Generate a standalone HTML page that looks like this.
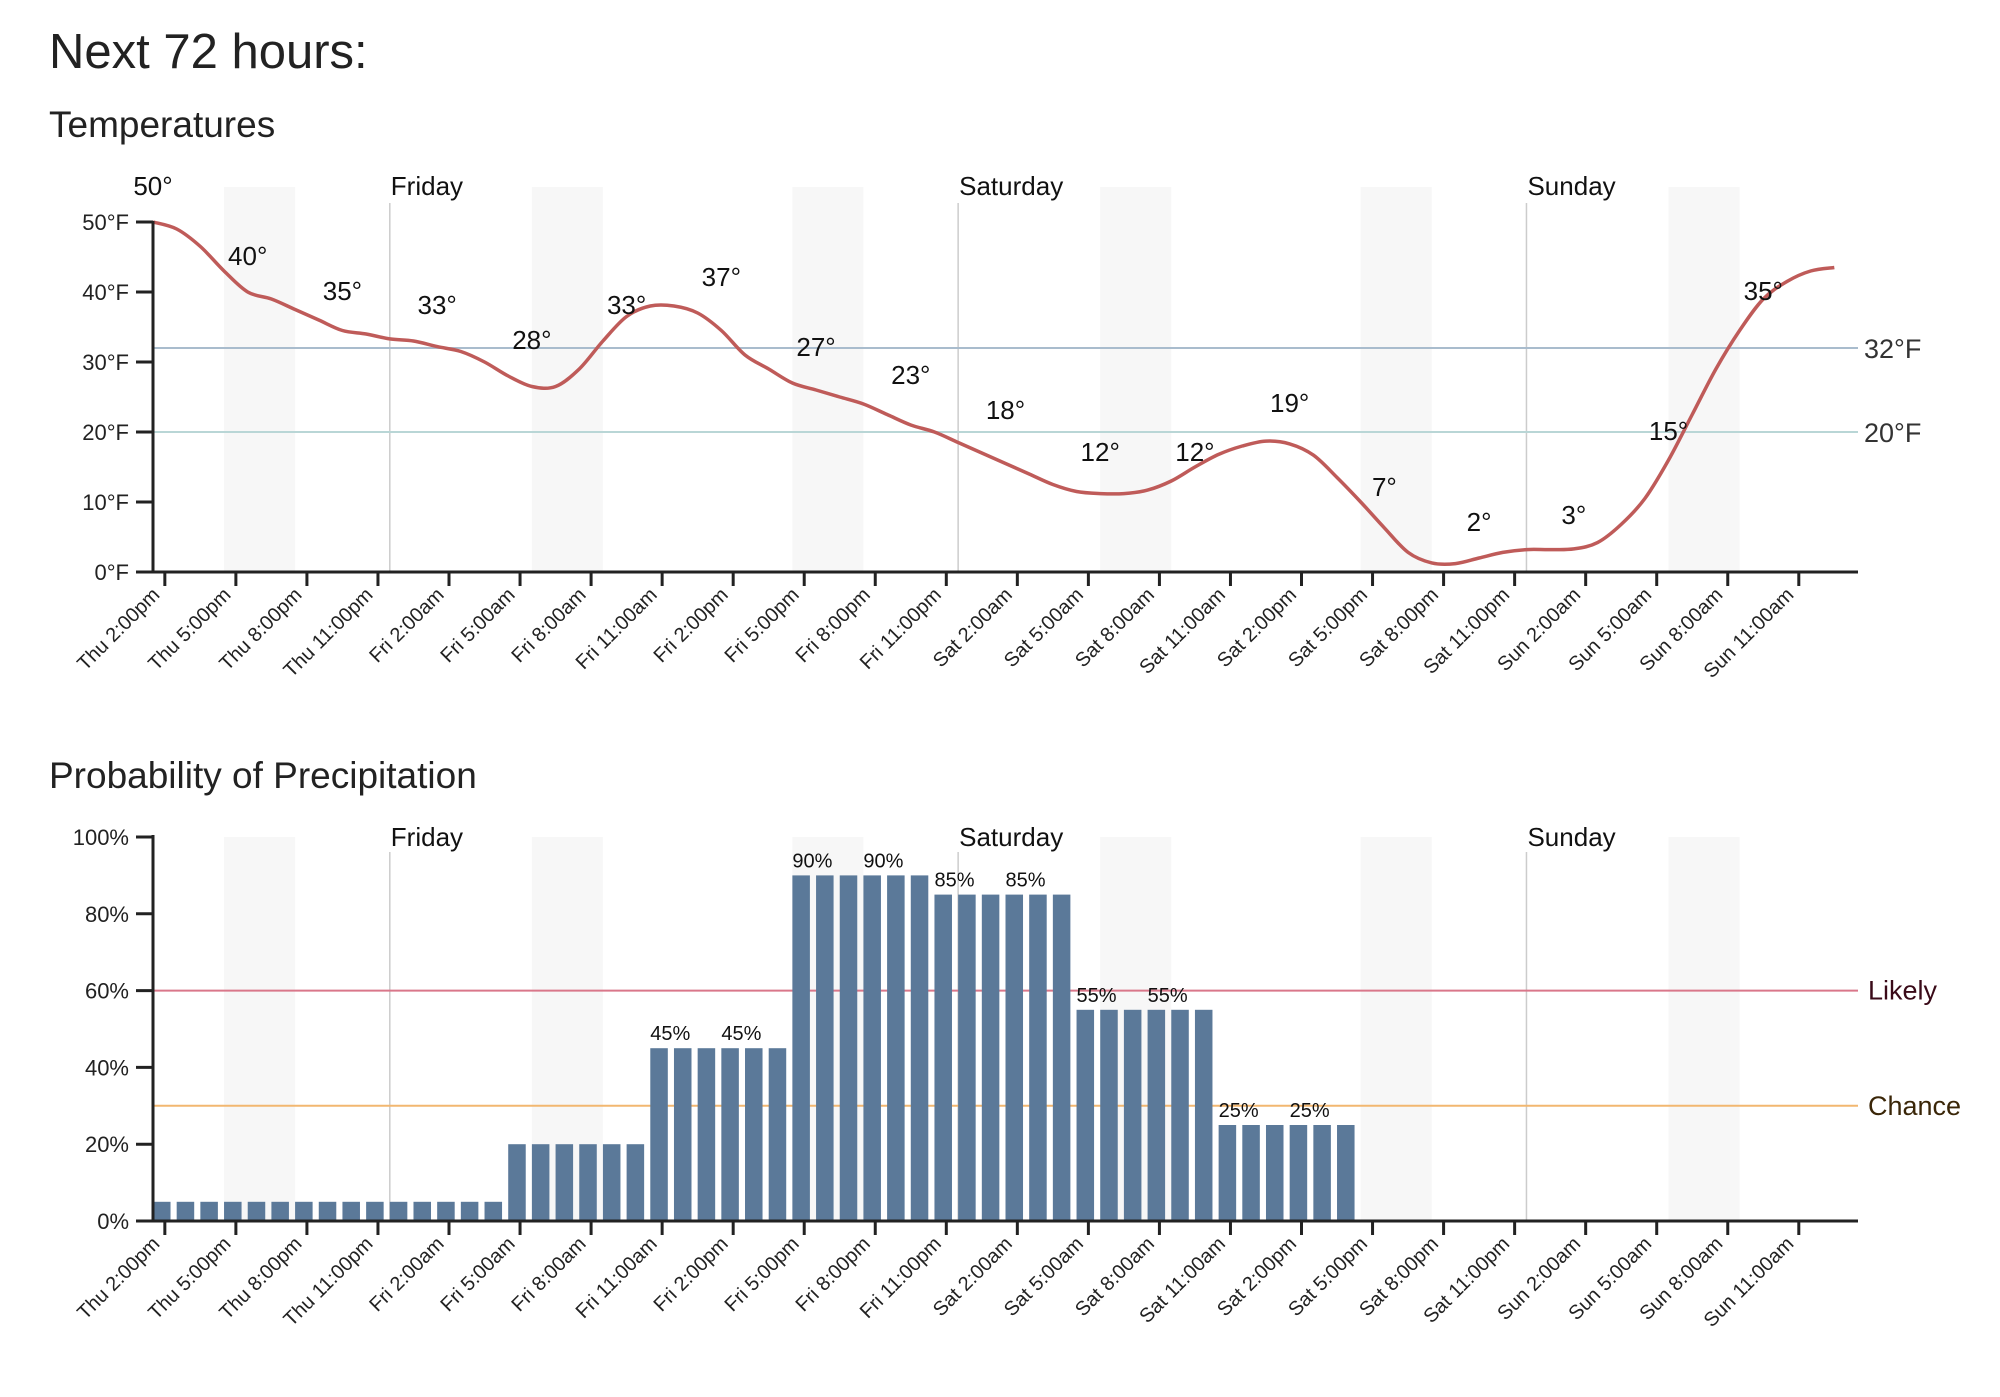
<!DOCTYPE html>
<html><head><meta charset="utf-8">
<style>
html,body{margin:0;padding:0;background:#fff;}
svg{display:block;font-family:"Liberation Sans",sans-serif;}
</style></head>
<body>
<svg id="chart" width="2000" height="1397" viewBox="0 0 2000 1397" xmlns="http://www.w3.org/2000/svg">
<text x="49" y="68" font-size="49" fill="#222">Next 72 hours:</text>
<text x="49" y="137" font-size="37" fill="#222">Temperatures</text>
<text x="49" y="788" font-size="37" fill="#222">Probability of Precipitation</text>
<g id="temp"></g>
<g id="precip"></g>
</svg>
<script>
const temps = [50,49,46.5,43,40,39,37.5,36,34.5,34,33.3,33,32.2,31.5,30,28,26.5,26.5,29,33,36.5,38,38,37,34.5,31,29,27,26,25,24,22.5,21,20,18.5,17,15.5,14,12.5,11.5,11.2,11.2,11.7,13,15,16.8,18,18.7,18.3,16.7,13.5,10,6.3,2.8,1.3,1.2,2,2.8,3.2,3.2,3.3,4.2,6.8,10.5,16,22.5,29,34.5,39,41.5,43,43.5];
const tempLabelHours = [0,4,8,12,16,20,24,28,32,36,40,44,48,52,56,60,64,68];
const tempLabelValues = [50,40,35,33,28,33,37,27,23,18,12,12,19,7,2,3,15,35];
const tempTicks = [0,10,20,30,40,50];
const tempRefLines = [32,20];
const precip = [5,5,5,5,5,5,5,5,5,5,5,5,5,5,5,20,20,20,20,20,20,45,45,45,45,45,45,90,90,90,90,90,90,85,85,85,85,85,85,55,55,55,55,55,55,25,25,25,25,25,25,0,0,0,0,0,0,0,0,0,0,0,0,0,0,0,0,0,0,0,0,0];
const precipLabelHours = [21,24,27,30,33,36,39,42,45,48];
const precipTicks = [0,20,40,60,80,100];
const precipRefValues = [60,30];
const precipRefNames = ["Likely","Chance"];
const tickHours = [0,3,6,9,12,15,18,21,24,27,30,33,36,39,42,45,48,51,54,57,60,63,66,69];
const tickLabels = ["Thu 2:00pm","Thu 5:00pm","Thu 8:00pm","Thu 11:00pm","Fri 2:00am","Fri 5:00am","Fri 8:00am","Fri 11:00am","Fri 2:00pm","Fri 5:00pm","Fri 8:00pm","Fri 11:00pm","Sat 2:00am","Sat 5:00am","Sat 8:00am","Sat 11:00am","Sat 2:00pm","Sat 5:00pm","Sat 8:00pm","Sat 11:00pm","Sun 2:00am","Sun 5:00am","Sun 8:00am","Sun 11:00am"];
const dayHours = [10,34,58];
const dayNames = ["Friday","Saturday","Sunday"];
const shadeStarts = [3,16,27,40,51,64];

const NS = "http://www.w3.org/2000/svg";
const X0 = 153, XEND = 1858, BAND = (XEND - X0) / 72;
const x = h => X0 + h * BAND;
function mk(parent, tag, attrs, text) {
  const e = document.createElementNS(NS, tag);
  for (const k in attrs) e.setAttribute(k, attrs[k]);
  if (text !== undefined) e.textContent = text;
  parent.appendChild(e);
  return e;
}

function frame(g, top, bottom, dayTop, dayBase, y, ticks, fmt, prefix) {
  shadeStarts.forEach(s => {
    const r = mk(g, "rect", {x: x(s), y: top, width: BAND * 3, height: bottom - top, fill: "#f7f7f7"});
    
    
  });
  dayHours.forEach((h, i) => {
    const l = mk(g, "line", {x1: x(h), x2: x(h), y1: dayTop, y2: bottom, stroke: "#ccc", "stroke-width": 1.5});
    
    
    const t = mk(g, "text", {x: x(h) + 1, y: dayBase, "font-size": 26, fill: "#111"}, dayNames[i]);
    
    
  });
  ticks.forEach(v => {
    const tk = mk(g, "line", {x1: 136, x2: X0, y1: y(v), y2: y(v), stroke: "#222", "stroke-width": 3});
    
    
    const t = mk(g, "text", {x: 129, y: y(v) + 8, "font-size": 22, fill: "#222", "text-anchor": "end"}, fmt(v));
    
    
  });
  tickHours.forEach((h, i) => {
    const cx = x(h) + BAND / 2;
    const tk = mk(g, "line", {x1: cx, x2: cx, y1: bottom, y2: bottom + 14, stroke: "#222", "stroke-width": 3});
    
    
    const t = mk(g, "text", {transform: `translate(${cx - 4},${bottom + 24}) rotate(-45)`, "font-size": 20, fill: "#222", "text-anchor": "end"}, tickLabels[i]);
    
    
  });
}
function axes(g, top, bottom, prefix) {
  const ya = mk(g, "line", {x1: X0, x2: X0, y1: top - 2, y2: bottom + 1.5, stroke: "#222", "stroke-width": 3});
  
  
  const xa = mk(g, "line", {x1: X0, x2: XEND, y1: bottom, y2: bottom, stroke: "#222", "stroke-width": 3});
  
  
}

// Temperature chart
(function () {
  const g = document.getElementById("temp");
  const TOP = 187, BOT = 572;
  const y = v => BOT - v * 7.0;
  frame(g, TOP, BOT, 203, 195, y, tempTicks, v => v + "°F", "temp");
  const refColors = ["#a9bccd", "#b9d6d6"];
  tempRefLines.forEach((v, i) => {
    const l = mk(g, "line", {x1: X0, x2: XEND, y1: y(v), y2: y(v), stroke: refColors[i], "stroke-width": 2});
    
    
    const t = mk(g, "text", {x: 1864, y: y(v) + 10, "font-size": 27, fill: "#333"}, v + "°F");
    
    
  });
  const pts = temps.map((v, i) => [x(i), y(v)]);
  let d = `M${pts[0][0]},${pts[0][1]}`;
  for (let i = 0; i < pts.length - 1; i++) {
    const p0 = pts[Math.max(0, i - 1)], p1 = pts[i], p2 = pts[i + 1], p3 = pts[Math.min(pts.length - 1, i + 2)];
    const c1 = [p1[0] + (p2[0] - p0[0]) / 6, p1[1] + (p2[1] - p0[1]) / 6];
    const c2 = [p2[0] - (p3[0] - p1[0]) / 6, p2[1] - (p3[1] - p1[1]) / 6];
    d += ` C${c1[0]},${c1[1]} ${c2[0]},${c2[1]} ${p2[0]},${p2[1]}`;
  }
  const path = mk(g, "path", {d: d, fill: "none", stroke: "#bf5b59", "stroke-width": 3.5});
  
  
  tempLabelHours.forEach((h, i) => {
    const t = mk(g, "text", {x: x(h), y: y(tempLabelValues[i]) - 27, "font-size": 26, fill: "#111", "text-anchor": "middle"}, tempLabelValues[i] + "°");
    
    
  });
  axes(g, TOP + 36, BOT, "temp");
})();

// Precipitation chart
(function () {
  const g = document.getElementById("precip");
  const TOP = 837, BOT = 1221;
  const y = v => BOT - v * 3.84;
  frame(g, TOP, BOT, 852, 846, y, precipTicks, v => v + "%", "precip");
  const refColors = ["#d9778a", "#f2b770"];
  const refText = ["#3a0a18", "#3a2608"];
  precipRefValues.forEach((v, i) => {
    const l = mk(g, "line", {x1: X0, x2: XEND, y1: y(v), y2: y(v), stroke: refColors[i], "stroke-width": 2});
    
    
    const t = mk(g, "text", {x: 1868, y: y(v) + 9, "font-size": 27, fill: refText[i]}, precipRefNames[i]);
    
    
  });
  precip.forEach((v, i) => {
    if (v <= 0) return;
    const r = mk(g, "rect", {x: x(i), y: y(v), width: BAND * 0.74, height: BOT - y(v), fill: "#5b7999"});
    
    
  });
  precipLabelHours.forEach(h => {
    const t = mk(g, "text", {x: x(h), y: y(precip[h]) - 8, "font-size": 20, fill: "#111"}, precip[h] + "%");
    
    
  });
  axes(g, TOP, BOT, "precip");
})();
</script>
</body></html>
